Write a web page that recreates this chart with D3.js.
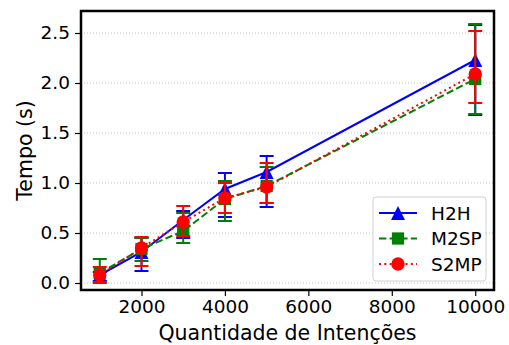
<!DOCTYPE html>
<html>
<head>
<meta charset="utf-8">
<script src="https://cdn.jsdelivr.net/npm/d3@7"></script>
<style>
  body { margin: 0; background: #fff; }
  text { font-family: "DejaVu Sans", sans-serif; }
</style>
</head>
<body>
<div id="chart"></div>
<script>
// chart data
var intencoes = [1000, 2000, 3000, 4000, 5000, 10000];
var seriesNames = ["H2H", "M2SP", "S2MP"];
var h2hMean = [0.08, 0.31, 0.63, 0.94, 1.11, 2.23];
var h2hLow  = [0.02, 0.12, 0.45, 0.66, 0.76, 1.68];
var h2hHigh = [0.11, 0.45, 0.72, 1.10, 1.27, 2.58];
var m2spMean = [0.10, 0.34, 0.52, 0.84, 0.97, 2.04];
var m2spLow  = [0.00, 0.22, 0.40, 0.62, 0.80, 1.69];
var m2spHigh = [0.24, 0.45, 0.70, 1.02, 1.16, 2.59];
var s2mpMean = [0.08, 0.35, 0.61, 0.85, 0.96, 2.09];
var s2mpLow  = [0.01, 0.17, 0.47, 0.70, 0.80, 1.80];
var s2mpHigh = [0.16, 0.46, 0.77, 1.00, 1.20, 2.52];
var xTicks = [2000, 4000, 6000, 8000, 10000];
var yTicks = [0.0, 0.5, 1.0, 1.5, 2.0, 2.5];

var width = 509, height = 345;
var padding = {left: 81, right: 15, top: 11, bottom: 55};

// matplotlib-like '^' marker: as wide as it is tall
var triangleUp = {
  draw: function(ctx, size) {
    var h = Math.sqrt(size) / 2;
    ctx.moveTo(0, -h);
    ctx.lineTo(h, h);
    ctx.lineTo(-h, h);
    ctx.closePath();
  }
};

var series = [
  {name: seriesNames[0], mean: h2hMean, low: h2hLow, high: h2hHigh, color: "blue", dash: null, marker: triangleUp, size: 196},
  {name: seriesNames[1], mean: m2spMean, low: m2spLow, high: m2spHigh, color: "green", dash: "7.4,3.2", marker: d3.symbolSquare, size: 150},
  {name: seriesNames[2], mean: s2mpMean, low: s2mpLow, high: s2mpHigh, color: "red", dash: "2,3.3", marker: d3.symbolCircle, size: 140}
];

var svg = d3.select("#chart")
            .append("svg")
              .attr("width", width)
              .attr("height", height);

var xScale = d3.scaleLinear()
               .domain([550, 10450])
               .range([padding.left, width - padding.right]);
var yScale = d3.scaleLinear()
               .domain([-0.07, 2.72])
               .range([height - padding.bottom, padding.top]);

// grid
svg.append("g")
   .selectAll("line")
   .data(yTicks)
   .enter()
   .append("line")
     .attr("x1", padding.left)
     .attr("x2", width - padding.right)
     .attr("y1", d => yScale(d))
     .attr("y2", d => yScale(d))
     .attr("stroke", "#b0b0b0")
     .attr("stroke-width", 0.8)
     .attr("stroke-dasharray", "1,2");

series.forEach(function(s) {
  var pts = intencoes.map((x, i) => ({x: x, m: s.mean[i], lo: s.low[i], hi: s.high[i]}));
  var g = svg.append("g");
  g.selectAll(".bar")
   .data(pts)
   .enter()
   .append("line")
     .attr("x1", d => xScale(d.x)).attr("x2", d => xScale(d.x))
     .attr("y1", d => yScale(d.lo)).attr("y2", d => yScale(d.hi))
     .attr("stroke", s.color).attr("stroke-width", 2);
  ["lo", "hi"].forEach(function(k) {
    g.selectAll(".cap-" + k)
     .data(pts)
     .enter()
     .append("line")
       .attr("x1", d => xScale(d.x) - 7).attr("x2", d => xScale(d.x) + 7)
       .attr("y1", d => yScale(d[k])).attr("y2", d => yScale(d[k]))
       .attr("stroke", s.color).attr("stroke-width", 2);
  });
  var line = d3.line().x(d => xScale(d.x)).y(d => yScale(d.m));
  g.append("path")
   .datum(pts)
   .attr("d", line)
   .attr("fill", "none")
   .attr("stroke", s.color)
   .attr("stroke-width", 2)
   .attr("stroke-dasharray", s.dash);
  g.selectAll(".mk")
   .data(pts)
   .enter()
   .append("path")
     .attr("d", d3.symbol().type(s.marker).size(s.size))
     .attr("transform", d => "translate(" + xScale(d.x) + "," + yScale(d.m) + ")")
     .attr("fill", s.color);
});

// axes
svg.append("g")
   .attr("class", "axis")
   .attr("transform", "translate(0," + (height - padding.bottom) + ")")
   .call(d3.axisBottom(xScale).tickValues(xTicks).tickSize(6).tickPadding(4).tickFormat(d3.format("d")));
svg.append("g")
   .attr("class", "axis")
   .attr("transform", "translate(" + padding.left + ",0)")
   .call(d3.axisLeft(yScale).tickValues(yTicks).tickSize(6).tickPadding(5).tickFormat(d3.format(".1f")));
svg.selectAll(".axis .domain").remove();
svg.selectAll(".axis text").attr("font-size", 18.5).attr("fill", "#000").attr("font-family", "DejaVu Sans");
svg.selectAll(".axis line").attr("stroke", "#000").attr("stroke-width", 1.2);

// frame
svg.append("rect")
   .attr("x", padding.left).attr("y", padding.top)
   .attr("width", width - padding.left - padding.right)
   .attr("height", height - padding.top - padding.bottom)
   .attr("fill", "none").attr("stroke", "#000").attr("stroke-width", 2.5);

svg.append("text")
   .attr("x", (padding.left + width - padding.right) / 2)
   .attr("y", 340)
   .attr("text-anchor", "middle")
   .attr("font-size", 20.5)
   .text("Quantidade de Intenções");
svg.append("text")
   .attr("transform", "translate(32," + ((padding.top + height - padding.bottom) / 2) + ") rotate(-90)")
   .attr("text-anchor", "middle")
   .attr("font-size", 20.5)
   .text("Tempo (s)");

// legend
var legend = svg.append("g").attr("transform", "translate(373,197)");
legend.append("rect")
      .attr("width", 113).attr("height", 84).attr("rx", 3)
      .attr("fill", "rgba(255,255,255,0.8)").attr("stroke", "#d0d0d0");
series.forEach(function(s, i) {
  var y = 16 + i * 25.5;
  legend.append("line")
        .attr("x1", 6).attr("x2", 44).attr("y1", y).attr("y2", y)
        .attr("stroke", s.color).attr("stroke-width", 2)
        .attr("stroke-dasharray", s.dash);
  legend.append("path")
        .attr("d", d3.symbol().type(s.marker).size(s.size))
        .attr("transform", "translate(25," + y + ")")
        .attr("fill", s.color);
  legend.append("text")
        .attr("x", 58).attr("y", y + 6.7)
        .attr("font-size", 18.5)
        .text(s.name);
});
</script>
</body>
</html>
